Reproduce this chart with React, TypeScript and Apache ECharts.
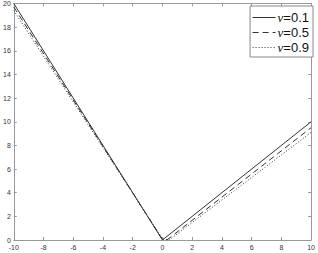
import React, { useEffect, useRef } from "react";
import * as echarts from "echarts";

const seriesNames = ["ν=0.1", "ν=0.5", "ν=0.9"];
const x01 = [-10, 0, 10];
const y01 = [20, 0, 10];
const x05 = [-10, 0, 0.3, 10];
const y05 = [19.7, 0.05, 0, 9.5];
const x09 = [-10, 0, 0.45, 10];
const y09 = [19.4, 0.1, 0, 9.1];
const lineTypes: any[] = ["solid", [6, 4], [1, 2]];

const pairs = (xs: number[], ys: number[]) => xs.map((x, i) => [x, ys[i]]);

export default function App() {
  const ref = useRef<HTMLDivElement>(null);
  useEffect(() => {
    const chart = echarts.init(ref.current!, null, { renderer: "svg" });
    const axisColor = "#999";
    const labelStyle = { color: "#333", fontSize: 7, fontFamily: "Liberation Sans, Arial, sans-serif" };
    const dataSets = [pairs(x01, y01), pairs(x05, y05), pairs(x09, y09)];
    const axisLine = { show: true, onZero: false, lineStyle: { color: axisColor, width: 1 } };
    const axisTick = { show: true, inside: true, length: 3, lineStyle: { color: axisColor } };
    chart.setOption({
      animation: false,
      backgroundColor: "#fff",
      grid: { left: 12, right: 5, top: 3, bottom: 13, containLabel: false },
      xAxis: [
        {
          type: "value", min: -10, max: 10, interval: 2, position: "bottom",
          axisLine, axisTick,
          axisLabel: { ...labelStyle, margin: 4 },
          splitLine: { show: false },
        },
        {
          type: "value", min: -10, max: 10, interval: 2, position: "top",
          axisLine, axisTick,
          axisLabel: { show: false },
          splitLine: { show: false },
        },
      ],
      yAxis: [
        {
          type: "value", min: 0, max: 20, interval: 2, position: "left",
          axisLine, axisTick,
          axisLabel: { ...labelStyle, margin: 3 },
          splitLine: { show: false },
        },
        {
          type: "value", min: 0, max: 20, interval: 2, position: "right",
          axisLine, axisTick,
          axisLabel: { show: false },
          splitLine: { show: false },
        },
      ],
      legend: {
        orient: "vertical",
        right: 5,
        top: 6,
        data: seriesNames,
        backgroundColor: "#fff",
        borderColor: "#888",
        borderWidth: 1,
        borderRadius: 0,
        padding: [5, 4, 3, 2],
        itemGap: 2,
        itemWidth: 23,
        itemHeight: 12,
        itemStyle: { opacity: 0 },
        lineStyle: { width: 1, color: "#333" },
        textStyle: {
          color: "#111",
          fontSize: 13,
          fontFamily: "Liberation Sans, Arial, sans-serif",
          padding: [0, 0, 0, -3],
          rich: {
            i: { fontStyle: "italic", fontSize: 13, fontFamily: "Liberation Serif, serif", color: "#111" },
            n: { fontSize: 13, fontFamily: "Liberation Sans, Arial, sans-serif", color: "#111" },
          },
        },
        formatter: (name: string) => `{i|ν}{n|${name.slice(1)}}`,
      },
      series: dataSets.map((d, i) => ({
        name: seriesNames[i],
        type: "line",
        data: d,
        symbol: "none",
        showSymbol: false,
        xAxisIndex: 0,
        yAxisIndex: 0,
        lineStyle: { color: "#333", width: 1, type: lineTypes[i] },
        itemStyle: { color: "#333" },
      })),
    });
    return () => chart.dispose();
  }, []);
  return (
    <div
      ref={ref}
      style={{ position: "fixed", left: 0, top: 0, width: 318, height: 253 }}
    />
  );
}
